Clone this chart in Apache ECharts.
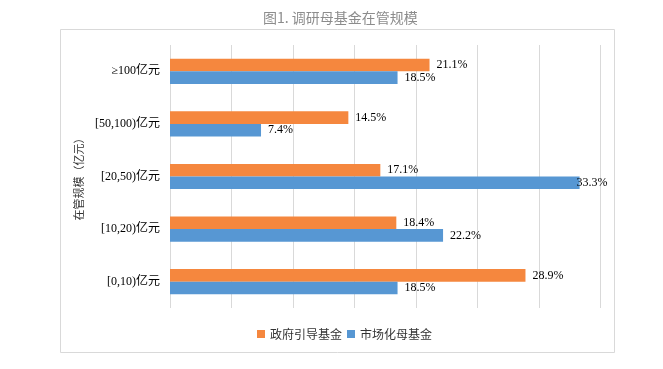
<!DOCTYPE html>
<html>
<head>
<meta charset="utf-8">
<script src="https://cdn.jsdelivr.net/npm/echarts@6/dist/echarts.min.js"></script>
<style>
html,body{margin:0;padding:0;background:#fff;}
#chart{width:663px;height:369px;}
</style>
</head>
<body>
<div id="chart"></div>
<script>
const categories = ['≥100亿元', '[50,100)亿元', '[20,50)亿元', '[10,20)亿元', '[0,10)亿元'];
const seriesNames = ['政府引导基金', '市场化母基金'];
const govValues = [21.1, 14.5, 17.1, 18.4, 28.9];
const mktValues = [18.5, 7.4, 33.3, 22.2, 18.5];
const titleText = '图1. 调研母基金在管规模';
const axisName = '在管规模（亿元）';

const serif = '"Liberation Serif", "Times New Roman", "Noto Sans CJK SC", serif';
const cjk = '"Noto Sans CJK SC", sans-serif';
const axisMax = 35;

function buildData(values) {
  return values.map(v => (v > 32 ? { value: v, label: { distance: -3 } } : v));
}

const chart = echarts.init(document.getElementById('chart'));
chart.setOption({
  animation: false,
  backgroundColor: '#fff',
  title: {
    text: titleText,
    left: 258,
    top: 6,
    textStyle: { fontFamily: cjk, fontSize: 14, fontWeight: 'normal', color: '#8c8c8c' }
  },
  graphic: [{
    type: 'rect',
    shape: { x: 60.5, y: 29.5, width: 554, height: 323 },
    style: { fill: 'none', stroke: '#d9d9d9', lineWidth: 1 },
    silent: true,
    z: -1
  }],
  legend: {
    data: seriesNames,
    left: 252,
    top: 323,
    itemWidth: 8,
    itemHeight: 8,
    itemGap: 5,
    icon: 'rect',
    textStyle: { fontFamily: cjk, fontSize: 12, color: '#333' }
  },
  grid: { left: 170, right: 62.5, top: 45, bottom: 61, containLabel: false },
  xAxis: {
    type: 'value',
    min: 0,
    max: axisMax,
    interval: 5,
    axisLabel: { show: false },
    axisLine: { show: false },
    axisTick: { show: false },
    splitLine: { show: true, lineStyle: { color: '#d9d9d9', width: 1 } }
  },
  yAxis: {
    type: 'category',
    data: categories,
    inverse: true,
    name: axisName,
    nameLocation: 'middle',
    nameRotate: 90,
    nameGap: 76,
    nameTextStyle: { fontFamily: cjk, fontSize: 11, color: '#333' },
    axisLine: { show: false },
    axisTick: { show: false },
    axisLabel: { margin: 10, fontFamily: serif, fontSize: 12, color: '#000' }
  },
  series: [
    {
      name: seriesNames[0],
      type: 'bar',
      data: buildData(govValues),
      barGap: '0%',
      barCategoryGap: '52%',
      itemStyle: { color: '#F5873E' },
      label: {
        show: true, position: 'right', distance: 7,
        formatter: p => p.value.toFixed(1) + '%',
        fontFamily: serif, fontSize: 12, color: '#000'
      }
    },
    {
      name: seriesNames[1],
      type: 'bar',
      data: buildData(mktValues),
      barGap: '0%',
      barCategoryGap: '52%',
      itemStyle: { color: '#5797D3' },
      label: {
        show: true, position: 'right', distance: 7,
        formatter: p => p.value.toFixed(1) + '%',
        fontFamily: serif, fontSize: 12, color: '#000'
      }
    }
  ]
});
</script>
</body>
</html>
